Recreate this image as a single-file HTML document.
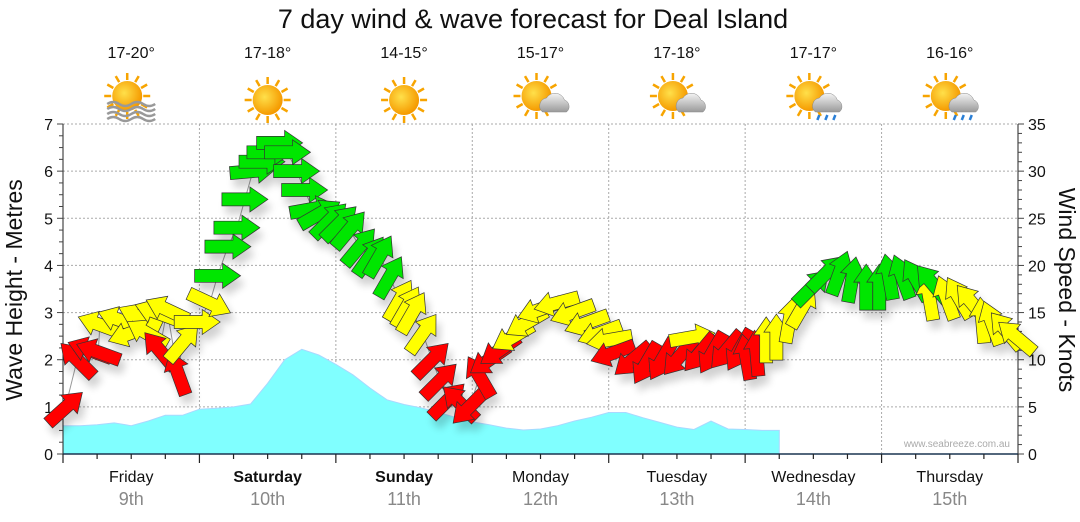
<!DOCTYPE html>
<html><head><meta charset="utf-8"><style>
html,body{margin:0;padding:0;background:#fff;}
svg{display:block;font-family:"Liberation Sans",sans-serif;}
</style></head><body>
<svg id="chart" width="1080" height="522" viewBox="0 0 1080 522" xmlns="http://www.w3.org/2000/svg">
<defs>
<filter id="shadow" x="-50%" y="-50%" width="200%" height="200%"><feGaussianBlur in="SourceAlpha" stdDeviation="4"/><feOffset dx="4" dy="8"/><feComponentTransfer><feFuncA type="linear" slope="0.18"/></feComponentTransfer><feMerge><feMergeNode/><feMergeNode in="SourceGraphic"/></feMerge></filter>
<radialGradient id="sun" cx="0.4" cy="0.4" r="0.6"><stop offset="0" stop-color="#ffe04a"/><stop offset="1" stop-color="#f59a00"/></radialGradient>
<linearGradient id="cloud" x1="0" y1="0" x2="0" y2="1"><stop offset="0" stop-color="#f4f4f4"/><stop offset="1" stop-color="#9a9a9a"/></linearGradient>
</defs>
<text x="533" y="28" text-anchor="middle" font-size="27" fill="#111">7 day wind &amp; wave forecast for Deal Island</text>
<g id="grid"></g>
<g id="wave"></g>
<g id="axes"></g>
<g id="wind"></g>
<g id="topgroup"></g>
<text transform="translate(22,290) rotate(-90)" text-anchor="middle" font-size="23" fill="#111">Wave Height - Metres</text>
<text transform="translate(1059,290) rotate(90)" text-anchor="middle" font-size="23" fill="#111">Wind Speed - Knots</text>
<text x="1010" y="447" text-anchor="end" font-size="10" fill="#aaa">www.seabreeze.com.au</text>
</svg>
<script>
const days = ["Friday","Saturday","Sunday","Monday","Tuesday","Wednesday","Thursday"];
const dates = ["9th","10th","11th","12th","13th","14th","15th"];
const boldDays = [false,true,true,false,false,false,false];
const temps = ["17-20°","17-18°","14-15°","15-17°","17-18°","17-17°","16-16°"];
const icons = ["sunwave","sun","sun","cloud","cloud","rain","rain"];
const waveHeights = [0.6,0.6,0.62,0.66,0.6,0.7,0.82,0.82,0.95,0.97,1.0,1.06,1.5,2.0,2.22,2.1,1.9,1.68,1.4,1.15,1.05,0.98,0.88,0.78,0.68,0.62,0.55,0.51,0.53,0.6,0.7,0.78,0.88,0.88,0.77,0.67,0.57,0.52,0.7,0.53,0.52,0.5,0.5];
const waveStepHours = 3;
const windHours = [0.4,2.5,4.7,6.2,6.5,10.0,11.8,13.5,14.8,16.5,17.0,18.3,20.2,21.1,23.6,25.8,27.2,29.0,30.6,32.0,33.4,35.0,36.4,38.1,39.5,41.1,42.5,43.9,45.2,46.9,48.7,50.4,52.2,54.0,55.7,57.5,59.2,60.5,61.5,63.3,64.9,66.3,67.7,69.8,71.5,73.3,75.0,76.8,79.1,81.5,83.8,86.8,89.6,92.1,94.4,96.1,96.7,100.2,102.6,105.4,108.4,110.7,112.0,114.2,116.7,119.0,120.2,122.0,123.7,125.5,127.8,130.1,131.8,134.3,136.6,138.8,141.3,143.6,145.3,147.6,150.1,152.4,152.9,155.4,157.6,159.9,161.7,163.4,165.9,167.7];
const windSpeeds = [4.9,10,11,10.8,13.7,14.2,12.8,14.5,12.8,15,11,15.3,8.6,11.8,14,16,18.9,22,24,27,30,31,32,33,32,30,28,26,25.5,24.8,24.5,23.8,22,21,21,18.8,16.3,15.6,15,12.8,10,7.8,5.7,5.4,5,8.2,10,11,12.4,13.9,15.3,16,15,13.9,12.8,12.1,10.7,10,9.6,10,10.3,12.4,10.7,10.7,11,11,10.3,10.7,12.1,12.4,14.2,15.6,17.7,19.2,19.2,18.5,17.7,17.7,18.8,18.8,18.5,16.6,18.1,16.6,16.6,16,14.2,13.9,13.1,12.4];
const windDirs = [-42,-135,-160,-160,-160,-160,160,-155,-150,-160,-130,-155,-110,-50,0,25,0,0,0,0,-5,0,0,0,0,0,0,-10,-30,-45,-45,-50,-50,-55,-60,-60,-60,-60,-60,-55,-45,-45,-45,-135,135,-120,145,145,150,150,160,165,160,160,160,170,160,140,120,120,130,-10,130,120,130,120,-100,-95,-90,-90,-80,-60,-45,-45,-70,-80,-90,-90,-100,-110,-120,-100,-130,-110,-120,-130,-95,-110,-130,-140];
const mTicks = [0,1,2,3,4,5,6,7];
const kTicks = [0,5,10,15,20,25,30,35];

const X0=63, X1=1018, Y0=454, Y1=124, DAYW=(X1-X0)/7;
const xH = h => X0 + h*DAYW/24;
const yM = m => Y0 - m*(Y0-Y1)/7;
const yK = k => Y0 - k*(Y0-Y1)/35;
const NS="http://www.w3.org/2000/svg";
function mk(tag, attrs, parent){const e=document.createElementNS(NS,tag);for(const k in attrs)e.setAttribute(k,attrs[k]);parent.appendChild(e);return e;}
const gridG=document.getElementById('grid'), axesG=document.getElementById('axes'), waveG=document.getElementById('wave'), windG=document.getElementById('wind'), topG=document.getElementById('topgroup');

mTicks.forEach(m=>{ if(m>0){const l=mk('line',{x1:X0,x2:X1,y1:yM(m),y2:yM(m),stroke:'#aaa','stroke-dasharray':'2,2','stroke-width':1},gridG);

}});
for(let d=1;d<7;d++){const l=mk('line',{x1:X0+d*DAYW,x2:X0+d*DAYW,y1:Y1,y2:Y0,stroke:'#aaa','stroke-dasharray':'2,2'},gridG);

}

let pts=[];
waveHeights.forEach((v,i)=>pts.push(xH(i*waveStepHours).toFixed(1)+','+yM(v).toFixed(1)));
const lastX=xH((waveHeights.length-1)*waveStepHours);
const wp=mk('polygon',{points:X0+','+Y0+' '+pts.join(' ')+' '+lastX+','+Y0,fill:'#80ffff',stroke:'#a9d8ff','stroke-width':1},waveG);



mk('line',{x1:X0,x2:X0,y1:Y1,y2:Y0,stroke:'#222'},axesG);
mk('line',{x1:X1,x2:X1,y1:Y1,y2:Y0,stroke:'#222'},axesG);
mk('line',{x1:X0,x2:X1,y1:Y0,y2:Y0,stroke:'#1a3550','stroke-width':1.5},axesG);
for(let i=0;i<=28;i++){const y=yM(i/4);mk('line',{x1:X0-(i%4?4:6),x2:X0,y1:y,y2:y,stroke:'#444'},axesG);}
for(let i=0;i<=35;i++){const y=yK(i);mk('line',{x1:X1,x2:X1+(i%5?4:6),y1:y,y2:y,stroke:'#444'},axesG);}
mTicks.forEach(m=>{const t=mk('text',{x:X0-10,y:yM(m)+6,'text-anchor':'end','font-size':16,fill:'#111'},axesG);t.textContent=m;

});
kTicks.forEach(k=>{const t=mk('text',{x:X1+10,y:yK(k)+6,'font-size':16,fill:'#111'},axesG);t.textContent=k;

});
for(let i=0;i<=28;i++){const x=X0+i*DAYW/4;mk('line',{x1:x,x2:x,y1:Y0,y2:Y0+(i%4?5:9),stroke:'#222','stroke-width':1.2},axesG);}
days.forEach((d,i)=>{const cx=X0+(i+0.5)*DAYW;
const t=mk('text',{x:cx,y:482,'text-anchor':'middle','font-size':16,fill:'#111','font-weight':boldDays[i]?'bold':'normal'},axesG);t.textContent=d;


const t2=mk('text',{x:cx,y:505,'text-anchor':'middle','font-size':18,fill:'#888'},axesG);t2.textContent=dates[i];


const t3=mk('text',{x:cx,y:58,'text-anchor':'middle','font-size':16,fill:'#111'},topG);t3.textContent=temps[i];


const g=mk('g',{transform:'translate('+cx+',100)'},topG);


const sx=icons[i]==='sun'?0:-4, sy=icons[i]==='sun'?0:-4;
for(let r=0;r<12;r++){const a=r*Math.PI/6;mk('line',{x1:sx+Math.cos(a)*16,y1:sy+Math.sin(a)*16,x2:sx+Math.cos(a)*23,y2:sy+Math.sin(a)*23,stroke:'#f7a400','stroke-width':2.5},g);}
mk('circle',{cx:sx,cy:sy,r:15,fill:'url(#sun)'},g);
if(icons[i]==='cloud'||icons[i]==='rain'){mk('path',{d:'M2,12 a8,8 0 0 1 4,-14 a10,10 0 0 1 18,2 a7,7 0 0 1 2,12 z',fill:'url(#cloud)',stroke:'#888','stroke-width':0.5},g);}
if(icons[i]==='rain'){[6,14,22].forEach(rx=>mk('path',{d:'M'+rx+',15 l-2,5',stroke:'#2a7fd6','stroke-width':2.5},g));}
if(icons[i]==='sunwave'){for(let w=0;w<4;w++){mk('path',{d:'M-24,'+(4+w*5)+' q6,-4 12,0 t12,0 t12,0 t12,0',fill:'none',stroke:'#999','stroke-width':2.5},g);}}
});

const lp=windHours.map((h,i)=>xH(h).toFixed(1)+','+yK(windSpeeds[i]).toFixed(1)).join(' ');
const ln=mk('polyline',{points:lp,fill:'none',stroke:'#999','stroke-width':1},windG);


const ag=mk('g',{filter:'url(#shadow)'},windG);
windHours.forEach((h,i)=>{const s=windSpeeds[i];
const col=s<11.5?'#ff0000':(s<17?'#ffff00':'#00e600');
const p=mk('polygon',{points:'-23,-6.5 5,-6.5 5,-12.5 23,0 5,12.5 5,6.5 -23,6.5',fill:col,stroke:'#333','stroke-width':0.7,
transform:'translate('+xH(h).toFixed(1)+','+yK(s).toFixed(1)+') rotate('+windDirs[i]+')'},ag);

});
</script>
</body></html>
